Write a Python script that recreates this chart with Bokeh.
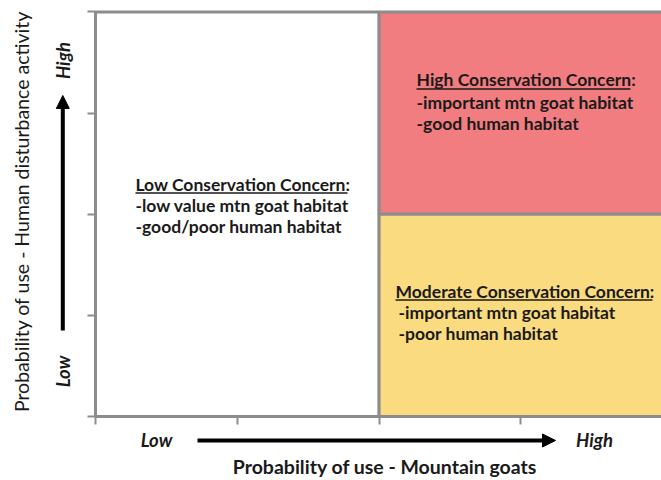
import math
from bokeh.plotting import figure
from bokeh.models import Range1d, FixedTicker, ColumnDataSource, Arrow, NormalHead, LinearAxis
from bokeh.core.properties import value
from bokeh.embed import file_html
from bokeh.resources import INLINE

# ---- data ----
tick_values = [0, 1, 2, 3, 4]
quad_names = ["Low", "High", "Moderate"]
quad_left = [0, 2, 2]
quad_right = [2, 4, 4]
quad_bottom = [0, 2, 0]
quad_top = [4, 4, 2]
quad_colors = ["#FFFFFF", "#F17D80", "#FBDB7F"]

title_text = ["Low Conservation Concern:", "High Conservation Concern:", "Moderate Conservation Concern:"]
title_x = [0.282, 2.264, 2.116]
title_y = [2.299, 3.328, 1.241]
title_len = [1.495, 1.509, 1.812]

line_text = ["-low value mtn goat habitat", "-good/poor human habitat",
             "-important mtn goat habitat", "-good human habitat",
             "-important mtn goat habitat", "-poor human habitat"]
line_x = [0.282, 0.282, 2.264, 2.264, 2.137, 2.137]
line_y = [2.087, 1.874, 3.110, 2.893, 1.028, 0.816]

x_label = "Probability of use - Mountain goats"
y_label = "Probability of use - Human disturbance activity"
low_high = ["Low", "High"]

GRAY = "#8C8C8C"
TXT = "#1A1A1A"
FONT = "Lato"

p = figure(width=661, height=480,
           x_range=Range1d(-0.66996, 3.99153), y_range=Range1d(-0.63288, 4.11372),
           output_backend="svg", toolbar_location=None, title=None,
           x_axis_location=None, y_axis_location=None)
p.min_border = 0
p.background_fill_color = "white"
p.border_fill_color = "white"
p.outline_line_color = None
p.grid.visible = False

def style_axis(ax):
    ax.ticker = FixedTicker(ticks=tick_values)
    ax.bounds = (0, 4)
    ax.axis_line_color = GRAY
    ax.axis_line_width = 2
    ax.major_tick_line_color = GRAY
    ax.major_tick_line_width = 2
    ax.major_tick_in = 0
    ax.major_tick_out = 8
    ax.minor_tick_line_color = None
    ax.major_label_text_color = None
    ax.major_label_standoff = 0

yax = LinearAxis(fixed_location=0)
xax = LinearAxis(fixed_location=0)
style_axis(yax)
style_axis(xax)

qsrc = ColumnDataSource(dict(left=quad_left, right=quad_right, bottom=quad_bottom,
                             top=quad_top, color=quad_colors, name=quad_names))
p.quad(left="left", right="right", bottom="bottom", top="top", source=qsrc,
       fill_color="color", line_color=GRAY, line_width=3)

p.add_layout(yax, "left")
p.add_layout(xax, "below")

tsrc = ColumnDataSource(dict(x=title_x, y=title_y, text=title_text,
                             x1=[a + b for a, b in zip(title_x, title_len)],
                             yu=[y - 0.089 for y in title_y]))
p.text(x="x", y="y", text="text", source=tsrc, text_font=value(FONT),
       text_font_style="bold", text_font_size="17.5px", text_color=TXT,
       text_align="left", text_baseline="alphabetic")
p.segment(x0="x", y0="yu", x1="x1", y1="yu", source=tsrc, line_color=TXT, line_width=1.6)

lsrc = ColumnDataSource(dict(x=line_x, y=line_y, text=line_text))
p.text(x="x", y="y", text="text", source=lsrc, text_font=value(FONT),
       text_font_style="bold", text_font_size="17.5px", text_color=TXT,
       text_align="left", text_baseline="alphabetic")

# axis titles
p.text(x=[2.0416], y=[-0.4945], text=[x_label], text_font=value(FONT),
       text_font_style="bold", text_font_size="19.5px", text_color=TXT,
       text_align="center", text_baseline="middle")
p.text(x=[-0.5219], y=[2.0272], text=[y_label], angle=math.pi / 2, text_font=value(FONT),
       text_font_style="normal", text_font_size="19.5px", text_color=TXT,
       text_align="center", text_baseline="middle")

# direction arrows and their Low/High labels
p.add_layout(Arrow(x_start=0.7193, y_start=-0.2373, x_end=3.244, y_end=-0.2373,
                   line_color="black", line_width=4,
                   end=NormalHead(size=13, fill_color="black", line_color="black")))
p.add_layout(Arrow(x_start=-0.2306, y_start=0.8504, x_end=-0.2306, y_end=3.1743,
                   line_color="black", line_width=4,
                   end=NormalHead(size=13, fill_color="black", line_color="black")))

lab_kw = dict(text_font=value(FONT), text_font_style="bold italic", text_font_size="18.5px",
              text_color=TXT, text_align="center", text_baseline="middle")
p.text(x=[0.4302, 3.519], y=[-0.2373, -0.2373], text=low_high, **lab_kw)
p.text(x=[-0.2327, -0.2327], y=[0.445, 3.520], text=low_high, angle=math.pi / 2, **lab_kw)

open("out.html", "w").write(file_html(p, INLINE))
